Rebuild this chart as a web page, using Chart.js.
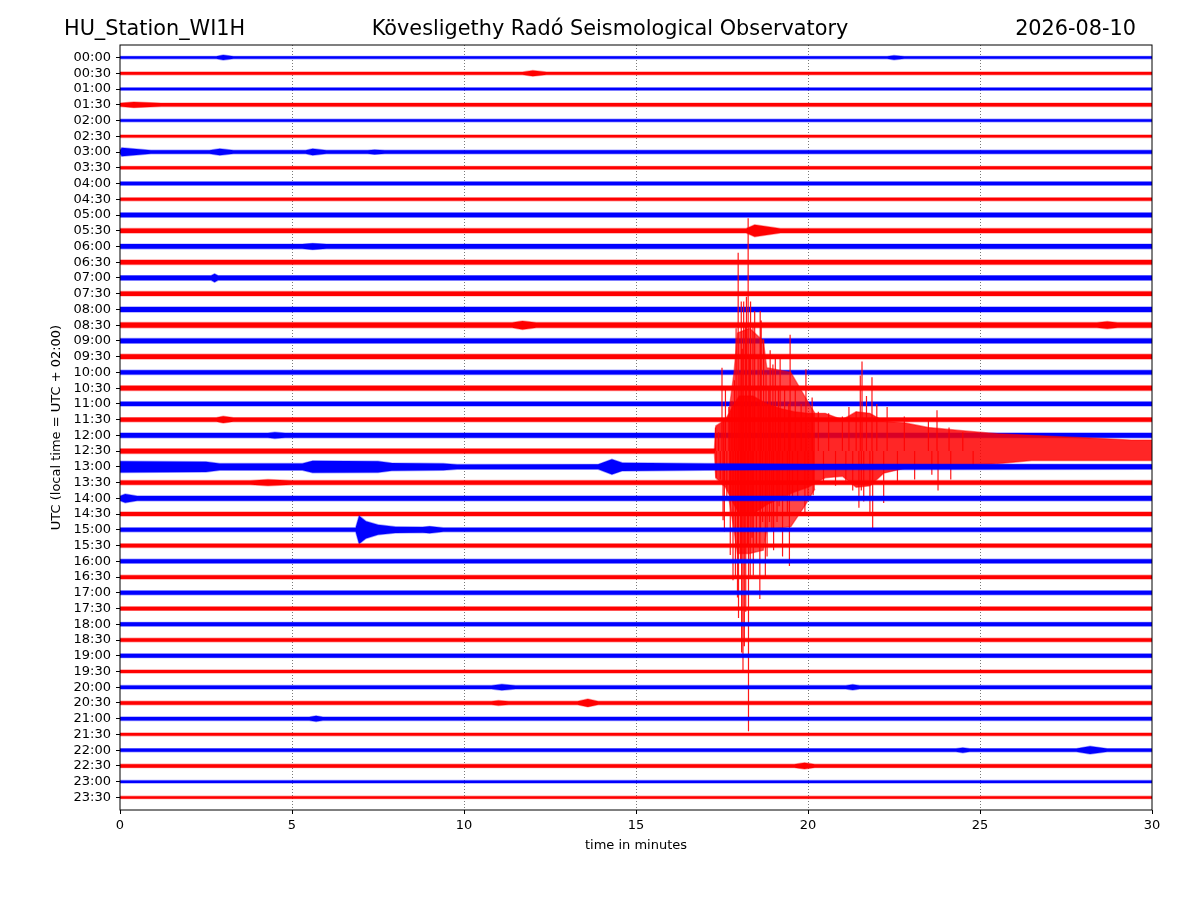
<!DOCTYPE html>
<html>
<head>
<meta charset="utf-8">
<title>HU_Station_WI1H helicorder</title>
<script src="https://cdn.jsdelivr.net/npm/chart.js@4.4.1/dist/chart.umd.min.js"></script>
<style>
  html, body { margin: 0; padding: 0; background: #fff; }
  canvas { display: block; }
</style>
</head>
<body>
<canvas id="heli" width="1200" height="900"></canvas>
<script>
// one trace per half hour, each 30 minutes long
const rowLabels = [
  '00:00', '00:30', '01:00', '01:30', '02:00', '02:30', '03:00', '03:30',
  '04:00', '04:30', '05:00', '05:30', '06:00', '06:30', '07:00', '07:30',
  '08:00', '08:30', '09:00', '09:30', '10:00', '10:30', '11:00', '11:30',
  '12:00', '12:30', '13:00', '13:30', '14:00', '14:30', '15:00', '15:30',
  '16:00', '16:30', '17:00', '17:30', '18:00', '18:30', '19:00', '19:30',
  '20:00', '20:30', '21:00', '21:30', '22:00', '22:30', '23:00', '23:30'
];
const xTicks = [0, 5, 10, 15, 20, 25, 30];

// half-thickness of the background noise of every trace (in trace spacings)
const baseNoise = [
  0.08, 0.09, 0.08, 0.11, 0.08, 0.08, 0.11, 0.09,
  0.11, 0.10, 0.14, 0.15, 0.15, 0.14, 0.15, 0.14,
  0.16, 0.17, 0.15, 0.15, 0.14, 0.15, 0.14, 0.13,
  0.15, 0.15, 0.20, 0.14, 0.15, 0.13, 0.13, 0.12,
  0.13, 0.12, 0.13, 0.12, 0.12, 0.11, 0.12, 0.10,
  0.11, 0.11, 0.11, 0.09, 0.10, 0.11, 0.08, 0.08
];

// small local bursts: [row, start, peak, end (minutes), half-amplitude at peak]
const bursts = [
  [0, 2.8, 3.0, 3.3, 0.16], [0, 22.3, 22.5, 22.8, 0.14],
  [1, 11.7, 12.0, 12.4, 0.18],
  [3, 0, 0.4, 1.2, 0.18],
  [6, 0, 0.05, 0.9, 0.27], [6, 2.6, 2.9, 3.3, 0.21], [6, 5.4, 5.6, 6.0, 0.21], [6, 7.2, 7.4, 7.7, 0.15],
  [11, 18.2, 18.45, 19.2, 0.38],
  [12, 5.3, 5.6, 6.0, 0.2],
  [14, 2.65, 2.75, 2.85, 0.27],
  [17, 11.4, 11.7, 12.1, 0.27], [17, 28.4, 28.7, 29.0, 0.23],
  [23, 2.8, 3.0, 3.3, 0.21],
  [24, 4.3, 4.5, 4.8, 0.2],
  [27, 3.8, 4.3, 5.0, 0.2],
  [28, 0, 0.15, 0.5, 0.28],
  [40, 10.8, 11.1, 11.5, 0.19], [40, 21.1, 21.3, 21.5, 0.18],
  [41, 10.8, 11.0, 11.3, 0.16], [41, 13.3, 13.6, 13.9, 0.25],
  [42, 5.5, 5.7, 5.9, 0.18],
  [44, 24.3, 24.5, 24.7, 0.16], [44, 27.8, 28.2, 28.7, 0.25],
  [45, 19.6, 19.9, 20.2, 0.2]
];

// traces with a longer shape: [row, [[minute, half-amplitude], ...]]
const shapedRows = [
  [26, [[0, 0.36], [2.5, 0.33], [2.9, 0.22], [5.3, 0.22], [5.6, 0.38], [7.5, 0.36], [7.9, 0.25],
        [9.4, 0.22], [9.8, 0.15], [13.9, 0.16], [14.3, 0.48], [14.6, 0.26], [17.0, 0.22], [20.0, 0.18], [30, 0.16]]],
  [30, [[0, 0.13], [6.85, 0.13], [6.95, 0.9], [7.15, 0.55], [7.5, 0.32], [8.0, 0.2], [8.8, 0.18],
        [9.0, 0.22], [9.4, 0.13], [30, 0.13]]]
];

// the earthquake on the 12:30 trace
const eventRow = 25;
const eventTimes  = [17.28, 17.32, 17.6, 17.8, 18.0, 18.4, 18.8, 19.2, 19.6, 20.0, 20.5, 21.0, 21.4, 21.8, 22.2, 22.8, 23.5, 24.5, 25.5, 26.5, 27.5, 28.5, 29.4, 30];
const eventTop    = [0.15, 1.6, 2.0, 2.8, 3.5, 3.5, 3.0, 2.7, 2.5, 2.4, 2.4, 2.0, 2.5, 2.4, 1.9, 1.8, 1.5, 1.3, 1.1, 1.0, 0.9, 0.8, 0.7, 0.7];
const eventBottom = [0.15, 1.7, 2.3, 3.2, 4.0, 4.0, 3.4, 3.0, 2.6, 2.3, 1.7, 1.6, 2.3, 2.2, 1.4, 1.1, 1.0, 0.9, 0.8, 0.6, 0.6, 0.6, 0.6, 0.6];

// dense part of the strong shaking
const coreTimes  = [17.7, 17.85, 17.95, 18.3, 18.7, 18.8, 19.5, 19.9, 20.2];
const coreTop    = [2.5, 5.0, 7.5, 7.8, 7.0, 5.3, 5.0, 3.5, 2.4];
const coreBottom = [3.0, 5.0, 6.5, 6.5, 6.3, 5.0, 4.8, 3.5, 2.4];

// single peaks (positive = upwards)
const spikeTimes = [
  17.30, 17.31, 17.33, 17.40, 17.45, 17.50, 17.53, 17.55, 17.57, 17.60, 17.64, 17.70, 17.74, 17.79, 17.82, 17.86,
  17.89, 17.91, 17.95, 17.97, 17.98, 18.02, 18.04, 18.06, 18.07, 18.09, 18.11, 18.13, 18.15, 18.18, 18.19, 18.21,
  18.24, 18.26, 18.27, 18.30, 18.32, 18.33, 18.37, 18.40, 18.41, 18.45, 18.50, 18.55, 18.60, 18.61, 18.62, 18.64,
  18.68, 18.71, 18.76, 18.78, 18.81, 18.86, 18.88, 18.90, 18.95, 18.98, 19.00, 19.05, 19.10, 19.14, 19.16, 19.19,
  19.26, 19.32, 19.40, 19.44, 19.46, 19.48, 19.55, 19.63, 19.70, 19.80, 19.91, 19.94, 20.00, 20.12, 20.15, 20.30,
  20.45, 20.60, 20.80, 21.00, 21.10, 21.19, 21.30, 21.40, 21.48, 21.52, 21.55, 21.57, 21.62, 21.70, 21.80, 21.86,
  21.88, 22.00, 22.20, 22.30, 22.60, 22.80, 23.10, 23.50, 23.60, 23.75, 23.78, 24.10, 24.15, 24.50, 24.80
];
const spikeSizes = [
  0.2, 1.5, -1.7, 1.2, -1.8, 5.3, -4.4, 2.0, -5.1, 3.9, -3.0, 2.8, -6.6, 3.2, -8.2, 4.5,
  -8.1, 7.8, -9.3, 12.6, -10.6, 5.0, -7.0, 9.5, -12.8, 6.5, -14.0, 9.5, -12.4, 8.0, -10.2, 9.8,
  -6.0, 14.8, -17.8, 6.0, -8.1, 9.5, -5.5, 8.0, -7.9, 8.9, -6.0, 6.0, -9.4, 8.9, -5.0, 8.3,
  -4.5, 7.1, -8.1, 5.0, -6.7, 4.0, -4.5, 6.4, -5.0, 5.5, -6.3, 6.0, -4.5, 4.0, -3.5, 5.9,
  -6.7, 4.0, -4.0, 3.0, -7.3, 7.4, -3.0, 4.1, -3.0, 3.0, -4.0, 5.2, -3.0, 3.4, -2.8, 2.5,
  -2.0, 2.4, -2.2, 2.2, -2.0, 2.8, -2.5, 2.5, -3.6, 4.8, -2.5, 5.7, -3.2, 3.5, -4.0, 4.7,
  -5.0, 3.0, -3.3, 2.8, -2.0, 2.2, -1.8, 2.0, -1.5, 2.6, -2.5, 1.5, -1.8, 1.2, -1.0
];

const stationName = 'HU_Station_WI1H';
const observatory = 'Kövesligethy Radó Seismological Observatory';
const dayLabel = '2026-08-10';

const FONT = '"DejaVu Sans", "Liberation Sans", sans-serif';
const traceColors = [['#0000ff', 'rgba(0,0,255,0.35)'], ['#ff0000', 'rgba(255,0,0,0.35)']];

const datasets = [];

// band between the upper and lower edge of a trace, one per row
function addBand(row, times, up, down, edge, fillColor, order) {
  datasets.push({
    data: times.map((t, i) => ({ x: t, y: row - up[i] })),
    borderColor: edge, backgroundColor: fillColor, borderWidth: 1.4,
    fill: '+1', order: order
  });
  datasets.push({
    data: times.map((t, i) => ({ x: t, y: row + down[i] })),
    borderColor: edge, borderWidth: 1.4, fill: false, order: order
  });
}

const shapeByRow = new Map(shapedRows);

function rowKnots(row) {
  if (shapeByRow.has(row)) return shapeByRow.get(row);
  const base = baseNoise[row];
  const knots = [[0, base]];
  bursts.filter(b => b[0] === row)
    .sort((a, b) => a[1] - b[1])
    .forEach(b => { knots.push([b[1], base], [b[2], b[4]], [b[3], base]); });
  knots.push([30, base]);
  return knots;
}

rowLabels.forEach((label, row) => {
  const [color, edge] = traceColors[row % 2];
  // later rows are drawn on top, as in the original plot
  const order = (rowLabels.length - 1 - row) * 10;
  let knots = rowKnots(row);
  if (row === eventRow) {
    knots = [[0, baseNoise[row]], [17.3, baseNoise[row]]];
    // every peak is a vertical stroke from the trace line; null breaks the line
    datasets.push({
      data: spikeTimes.flatMap((t, i) => [
        { x: t, y: row }, { x: t, y: row - spikeSizes[i] }, { x: t, y: null }
      ]),
      borderColor: 'rgba(255,0,0,0.9)', borderWidth: 1.2, fill: false, spanGaps: false, order: order + 1
    });
    addBand(row, coreTimes, coreTop, coreBottom, 'rgba(255,0,0,0.5)', 'rgba(255,0,0,0.72)', order + 2);
    addBand(row, eventTimes, eventTop, eventBottom, 'rgba(255,0,0,0.5)', 'rgba(255,0,0,0.85)', order + 3);
  }
  const times = knots.map(k => k[0]);
  const amps = knots.map(k => k[1]);
  addBand(row, times, amps, amps, edge, color, order + 5);
});

// figure texts and the closed axes frame
const frameAndTitles = {
  id: 'frameAndTitles',
  afterDraw(chart) {
    const { ctx, chartArea: a } = chart;
    ctx.save();
    ctx.strokeStyle = '#000';
    ctx.lineWidth = 1;
    ctx.strokeRect(a.left, a.top, a.right - a.left, a.bottom - a.top);
    ctx.fillStyle = '#000';
    ctx.font = '20.8px ' + FONT;
    ctx.textBaseline = 'alphabetic';
    ctx.textAlign = 'left';
    ctx.fillText(stationName, 64, 35);
    ctx.textAlign = 'center';
    ctx.fillText(observatory, 610, 35);
    ctx.textAlign = 'right';
    ctx.fillText(dayLabel, 1136, 35);
    ctx.restore();
  }
};

const tickFont = { family: FONT, size: 13 };

new Chart(document.getElementById('heli'), {
  type: 'line',
  data: { datasets },
  options: {
    responsive: false,
    animation: false,
    devicePixelRatio: 1,
    events: [],
    layout: { padding: { top: 45, right: 48, bottom: 0, left: 0 } },
    elements: { point: { radius: 0 }, line: { tension: 0 } },
    plugins: {
      legend: { display: false },
      tooltip: { enabled: false },
      title: { display: false },
      filler: { propagate: false }
    },
    scales: {
      x: {
        type: 'linear',
        min: 0,
        max: 30,
        afterBuildTicks: s => { s.ticks = xTicks.map(v => ({ value: v })); },
        afterFit: s => { s.height = 90; },
        ticks: { color: '#000', font: tickFont, padding: 4, maxRotation: 0 },
        grid: {
          color: c => (c.tick && (c.tick.value === 0 || c.tick.value === 30)) ? 'rgba(0,0,0,0)' : 'rgba(0,0,0,0.75)',
          lineWidth: 0.7,
          tickColor: '#000',
          tickWidth: 1,
          tickLength: 4
        },
        border: { display: false, dash: [1, 2] },
        title: { display: true, text: 'time in minutes', color: '#000', font: tickFont, padding: { top: 0, bottom: 47 } }
      },
      y: {
        type: 'linear',
        reverse: true,
        min: -0.8,
        max: 47.8,
        afterBuildTicks: s => { s.ticks = rowLabels.map((_, i) => ({ value: i })); },
        afterFit: s => { s.width = 120; },
        ticks: {
          color: '#000', font: tickFont, padding: 5, autoSkip: false,
          callback: v => rowLabels[v] || ''
        },
        grid: { drawOnChartArea: false, tickColor: '#000', tickWidth: 1, tickLength: 4 },
        border: { display: false },
        title: { display: true, text: 'UTC (local time = UTC + 02:00)', color: '#000', font: tickFont, padding: { top: 49, bottom: 0 } }
      }
    }
  },
  plugins: [frameAndTitles]
});
</script>
</body>
</html>
